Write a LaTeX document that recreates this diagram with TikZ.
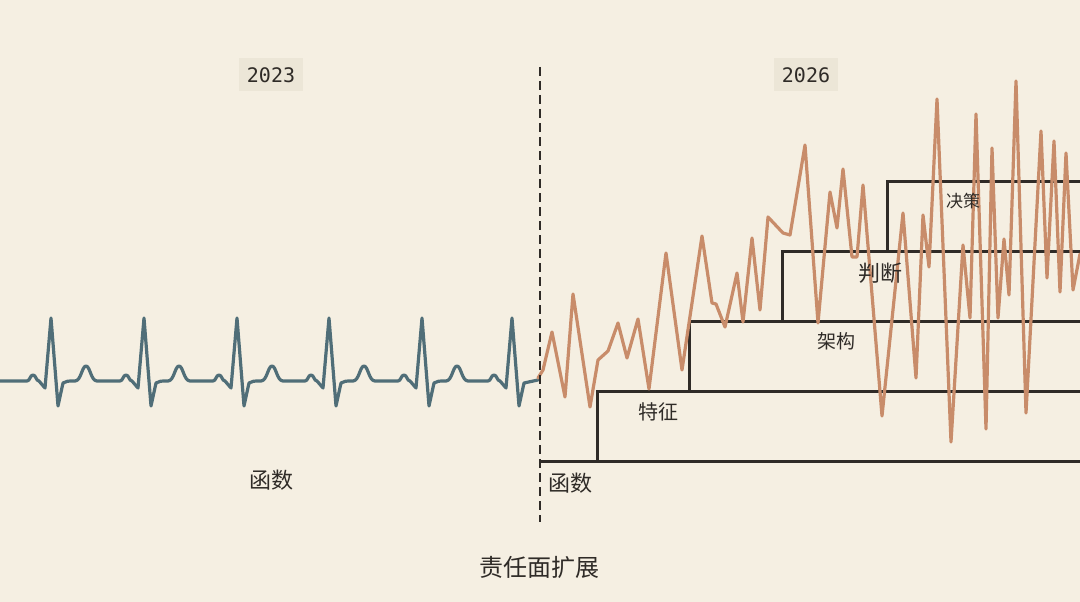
\documentclass[tikz,border=0pt]{standalone}
\usepackage{fontspec}
\usepackage{tikz}
\newfontfamily\cjkfont{Noto Sans CJK SC}
\newfontfamily\yearfont{DejaVu Sans Mono}
\definecolor{paper}{HTML}{F5EFE2}
\definecolor{ink}{HTML}{2F2B27}
\definecolor{ecgblue}{HTML}{506E78}
\definecolor{clay}{HTML}{C88C6A}
\definecolor{yearbg}{HTML}{ECE6D7}
\newcommand{\cjksize}[1]{\cjkfont\fontsize{#1}{#1}\selectfont}

\begin{document}
\begin{tikzpicture}[x=1pt,y=-1pt,
    ecgline/.style={draw=ecgblue, line width=3.2pt, line join=round, line cap=round},
    noiseline/.style={draw=clay, line width=3.2pt, line join=round, line cap=round},
    stairline/.style={draw=ink, line width=3pt},
    splitline/.style={draw=ink, line width=2.6pt, dash pattern=on 9pt off 5pt},
    yearlabel/.style={fill=yearbg, text=ink, font=\yearfont\fontsize{20}{20}\selectfont,
      inner xsep=8pt, minimum height=33pt},
    steplabel/.style={text=ink, inner sep=0pt}]
  \useasboundingbox (0,0) rectangle (1080,602);
  \fill[paper] (0,0) rectangle (1080,602);

  \node[yearlabel] (y2023) at (271,75) {2023};
  \node[yearlabel] (y2026) at (806,75) {2026};

  % heartbeat before the split
  \draw[ecgline] (0,381)
    foreach \r in {51,144,237,329,422} {
      -- ({\r-24},381) .. controls ({\r-21},381) and ({\r-21},375) .. ({\r-18},375)
      .. controls ({\r-15},375) and ({\r-15},381) .. ({\r-12},381)
      -- ({\r-6},388) -- (\r,318) -- ({\r+7},406) -- ({\r+12},383)
      .. controls ({\r+16},381) .. ({\r+24},381)
      .. controls ({\r+30},381) and ({\r+31},366) .. ({\r+35},366)
      .. controls ({\r+39},366) and ({\r+40},381) .. ({\r+46},381)
    }
    -- (488,381) .. controls (491,381) and (491,375) .. (494,375)
    .. controls (497,375) and (497,381) .. (500,381)
    -- (506,388) -- (512,318) -- (519,406) -- (524,383) -- (538,380);

  % steps
  \draw[stairline] (540,461) -- (1080,461);
  \draw[stairline] (597,461) |- (1080,391);
  \draw[stairline] (689,391) |- (1080,321);
  \draw[stairline] (782,321) |- (1080,251);
  \draw[stairline] (887,251) |- (1080,181);

  % noise after the split
  \draw[noiseline] plot[sharp plot] coordinates {
    (538,378) (543,370) (552,332) (565,397) (573,294) (590,407) (598,360)
    (608,351) (618,323) (627,358) (638,319) (649,389) (666,253) (682,370)
    (702,236) (712,303) (716,304) (725,327) (737,273) (743,322) (752,238)
    (760,310) (768,217) (783,233) (790,235) (805,145) (818,323) (830,192)
    (837,228) (843,169) (852,257) (857,257) (863,185) (882,416) (903,213)
    (916,378) (923,215) (929,267) (937,99) (951,442) (963,245) (970,318)
    (976,114) (986,429) (992,148) (998,318) (1004,239) (1009,295) (1016,81)
    (1026,413) (1041,131) (1047,278) (1054,141) (1060,292) (1066,153)
    (1073,290) (1080,254)};

  \coordinate (splittop) at (540,67);
  \coordinate (splitbot) at (540,522);
  \draw[splitline] (splittop) -- (splitbot);

  \node[steplabel, font=\cjksize{22}] (fn2023) at (271,480) {函数};
  \node[steplabel, font=\cjksize{22}] (fn2026) at (570,483) {函数};
  \node[steplabel, font=\cjksize{20}] (feature) at (658,412) {特征};
  \node[steplabel, font=\cjksize{19}] (arch) at (836,341) {架构};
  \node[steplabel, font=\cjksize{22}] (judge) at (880,273) {判断};
  \node[steplabel, font=\cjksize{17}] (decide) at (963,201) {决策};
  \node[steplabel, font=\cjksize{24}] (caption) at (539,567) {责任面扩展};
\end{tikzpicture}
\end{document}
